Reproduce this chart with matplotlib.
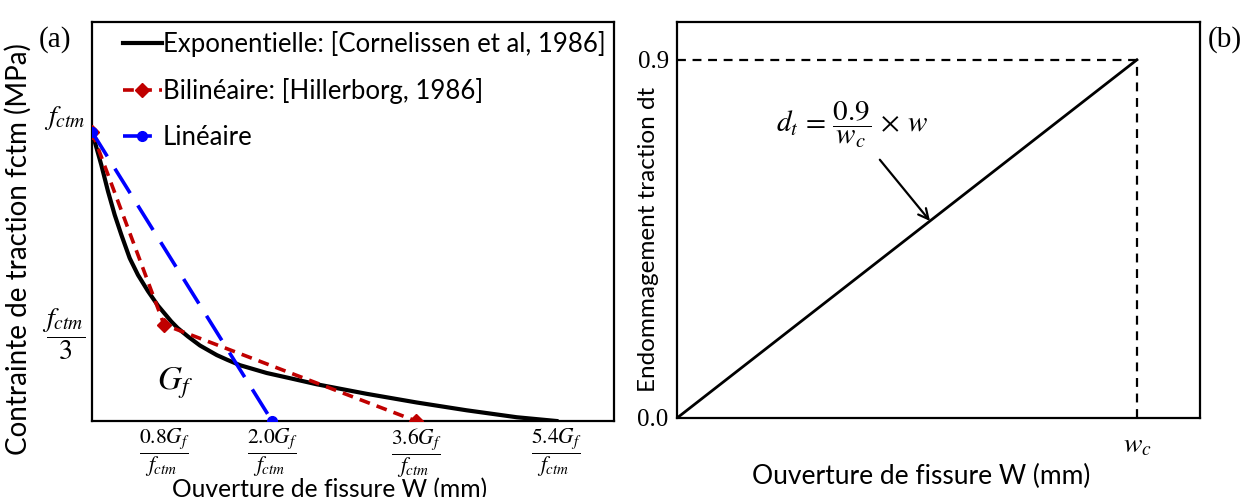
import matplotlib

matplotlib.use("Agg")
import matplotlib.pyplot as plt

plt.rcParams["mathtext.fontset"] = "stix"
plt.rcParams["font.family"] = ["Lato", "DejaVu Sans"]

# (a) traction-separation laws, x in Gf/fctm, y in fctm
expo_x = [0.0, 0.103, 0.178, 0.252, 0.326, 0.419, 0.511, 0.622, 0.733, 0.881, 0.95, 1.067,
          1.2, 1.386, 1.5, 1.644, 1.941, 2.2, 2.497, 3.052, 3.608, 4.163, 4.719, 5.16]
expo_y = [1.0, 0.886, 0.794, 0.713, 0.644, 0.563, 0.505, 0.449, 0.399, 0.344, 0.322, 0.292,
          0.261, 0.228, 0.212, 0.193, 0.166, 0.148, 0.127, 0.094, 0.064, 0.037, 0.013, 0.0]
bili_x = [0.0, 0.8, 3.6]
bili_y = [1.0, 1 / 3, 0.0]
lin_x = [0.0, 2.0]
lin_y = [1.0, 0.0]
a_ticks = [0.8, 2.0, 3.6, 5.16]
a_ticklabels = [r"$\dfrac{0.8G_f}{f_{ctm}}$", r"$\dfrac{2.0G_f}{f_{ctm}}$",
                r"$\dfrac{3.6G_f}{f_{ctm}}$", r"$\dfrac{5.4G_f}{f_{ctm}}$"]
a_yticks = [1 / 3, 1.0]
a_yticklabels = [r"$\dfrac{f_{ctm}}{3}$", r"$f_{ctm}$"]

# (b) damage law
wc = 1.0
dmax = 0.9
dmg_x = [0.0, wc]
dmg_y = [0.0, dmax]

fig = plt.figure(figsize=(12.45, 4.97), dpi=100)
ax1 = fig.add_axes([0.0739, 1 - 421 / 497, 0.4193, 399 / 497])
ax2 = fig.add_axes([0.5438, 1 - 418 / 497, 0.4200, 396 / 497])

# ---- panel (a)
ax1.plot(expo_x, expo_y, color="black", lw=3, label="Exponentielle: [Cornelissen et al, 1986]",
         solid_joinstyle="round", zorder=3)
ax1.plot(bili_x, bili_y, color="#c00000", lw=2.6, ls=(0, (3, 2)), marker="D", ms=7,
         label="Bilinéaire: [Hillerborg, 1986]", zorder=4)
ax1.plot(lin_x, lin_y, color="#0000ff", lw=2.6, ls=(0, (8, 4)), marker="o", ms=7,
         label="Linéaire", zorder=5)
ax1.set_xlim(0, 5.8)
ax1.set_ylim(0, 1.38)
ax1.set_xticks(a_ticks)
ax1.set_xticklabels(a_ticklabels, fontsize=15.5)
ax1.set_yticks(a_yticks)
ax1.set_yticklabels(a_yticklabels, fontsize=20)
ax1.tick_params(length=0, pad=5)
ax1.tick_params(axis="x", pad=4)
ax1.yaxis.get_ticklabels()[1].set_va("bottom")
ax1.text(0.72, 0.11, r"$G_f$", fontsize=24)
ax1.set_xlabel("Ouverture de fissure W (mm)", fontsize=17.7)
ax1.xaxis.set_label_coords(0.455, -0.143)
ax1.set_ylabel("Contrainte de traction fctm (MPa)", fontsize=20)
ax1.yaxis.set_label_coords(-0.116, 0.43)
ax1.legend(loc="upper left", bbox_to_anchor=(0.03, 1.015), frameon=False, fontsize=18.5,
           handlelength=1.5, handletextpad=0.05, labelspacing=0.8, borderaxespad=0.2)
ax1.text(-0.04, 0.955, "(a)", transform=ax1.transAxes, ha="right", va="center",
         fontsize=21, family="Liberation Serif")

# ---- panel (b)
ax2.plot(dmg_x, dmg_y, color="black", lw=2)
ax2.plot([0, wc], [dmax, dmax], color="black", lw=1.6, ls=(0, (4, 3)))
ax2.plot([wc, wc], [0, dmax], color="black", lw=1.6, ls=(0, (4, 3)))
ax2.set_xlim(0, 1.137)
ax2.set_ylim(0, 0.995)
ax2.set_xticks([wc])
ax2.set_xticklabels([r"$w_c$"], fontsize=20)
ax2.set_yticks([0.0, dmax])
ax2.set_yticklabels(["0.0", "0.9"], fontsize=18, family="Liberation Serif")
ax2.tick_params(length=0, pad=6)
ax2.tick_params(axis="x", pad=10)
ax2.set_xlabel("Ouverture de fissure W (mm)", fontsize=19)
ax2.xaxis.set_label_coords(0.467, -0.115)
ax2.set_ylabel("Endommagement traction dt", fontsize=17.5)
ax2.yaxis.set_label_coords(-0.035, 0.45)
ax2.annotate(r"$d_t\,=\,\dfrac{0.9}{w_c}\,\times\,w$", xy=(0.55, 0.495), xytext=(0.38, 0.735),
             fontsize=21, ha="center", va="center",
             arrowprops=dict(arrowstyle="->", color="black", lw=1.6,
                             shrinkA=6, shrinkB=0, mutation_scale=18))
ax2.text(1.015, 0.955, "(b)", transform=ax2.transAxes, ha="left", va="center",
         fontsize=21, family="Liberation Serif")

for ax in (ax1, ax2):
    for sp in ax.spines.values():
        sp.set_linewidth(1.6)

fig.savefig("out.png", dpi=100, facecolor="white")
